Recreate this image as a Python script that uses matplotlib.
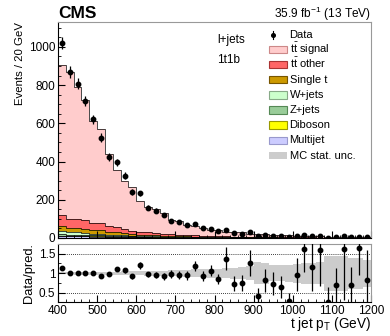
import numpy as np
import matplotlib
matplotlib.use("Agg")
from matplotlib import pyplot as plt
from matplotlib.patches import Rectangle
from matplotlib.lines import Line2D

plt.rcParams['font.family'] = ['Liberation Sans', 'DejaVu Sans']
plt.rcParams['mathtext.fontset'] = 'custom'
plt.rcParams['mathtext.rm'] = 'Liberation Sans'
plt.rcParams['mathtext.it'] = 'Liberation Sans:italic'

# binning: 400-1200 GeV, 20 GeV bins
edges = np.arange(400, 1201, 20)
centers = edges[:-1] + 10

data = [1020, 868, 807, 717, 621, 524, 423, 395, 325, 240,
        233, 158, 143, 120, 90, 85, 66, 72, 51, 47,
        36, 42, 24, 23, 29, 9, 16, 13, 10, 4,
        11, 16, 10, 13, 2, 4, 9, 4, 7, 3]

tt_signal = [782, 768, 693, 625, 532, 491, 378, 303, 254, 227,
             162, 133, 124, 108, 72, 70, 53, 48, 43, 34,
             32, 23, 26, 23.5, 17, 16.5, 14, 12.5, 11, 9.5,
             8, 7.2, 6.4, 5.6, 4.8, 4, 3.6, 3.2, 2.8, 2.4]
tt_other = [60, 48, 47, 47, 39, 38, 29, 26, 21, 17,
            15, 14, 11.5, 10, 9, 8, 6.8, 5.5, 5, 4,
            3.6, 3.3, 2.8, 2.6, 2.4, 2.2, 2, 1.8, 1.6, 1.5,
            1.3, 1.2, 1.1, 1, 0.9, 0.8, 0.8, 0.7, 0.7, 0.6]
single_t = [26, 22, 21, 20, 17, 16, 13, 12, 10, 8,
            7, 6, 5, 4.5, 4, 3.5, 3, 2.7, 2.4, 2.1,
            1.9, 1.7, 1.5, 1.4, 1.2, 1.1, 1, 0.9, 0.8, 0.7,
            0.7, 0.6, 0.6, 0.5, 0.5, 0.4, 0.4, 0.4, 0.3, 0.3]
wjets = [16, 13, 12, 12, 10, 10, 8, 7, 6, 5,
         4.5, 4, 3.5, 3, 2.8, 2.5, 2.2, 2, 1.8, 1.6,
         1.4, 1.3, 1.2, 1.1, 1, 0.9, 0.8, 0.8, 0.7, 0.6,
         0.6, 0.5, 0.5, 0.5, 0.4, 0.4, 0.4, 0.3, 0.3, 0.3]
zjets = [7, 6, 6, 6, 5, 5, 4, 4, 3, 3,
         2.5, 2.5, 2, 2, 1.5, 1.5, 1.2, 1.2, 1, 1,
         0.8, 0.8, 0.7, 0.6, 0.6, 0.5, 0.5, 0.4, 0.4, 0.3,
         0.3, 0.3, 0.3, 0.2, 0.2, 0.2, 0.2, 0.2, 0.1, 0.1]
diboson = [2, 2, 2, 2, 1.5, 1.5, 1.2, 1.2, 1, 1,
           0.8, 0.8, 0.6, 0.6, 0.5, 0.5, 0.4, 0.4, 0.3, 0.3,
           0.3, 0.2, 0.2, 0.2, 0.2, 0.2, 0.1, 0.1, 0.1, 0.1,
           0.1, 0.1, 0.1, 0.1, 0.1, 0.1, 0.1, 0.1, 0.1, 0.1]
multijet = [10, 9, 9, 8, 7, 7, 5, 5, 4, 4,
            3, 3, 2.5, 2, 2, 2, 1.5, 1.5, 1.2, 1,
            1, 0.9, 0.8, 0.8, 0.7, 0.6, 0.6, 0.5, 0.5, 0.4,
            0.4, 0.4, 0.3, 0.3, 0.3, 0.3, 0.2, 0.2, 0.2, 0.2]

ratio = [1.13, 1.01, 1.02, 1.00, 1.02, 0.92, 0.97, 1.11, 1.08, 0.92,
         1.20, 0.97, 0.96, 0.92, 0.98, 0.95, 0.95, 1.18, 0.93, 1.07,
         0.86, 1.37, 0.74, 0.76, 1.26, 0.42, 0.82, 0.74, 0.64, 0.29,
         0.96, 1.61, 1.16, 1.58, 0.27, 0.69, 1.61, 0.71, 1.65, 0.84]
ratio_err = [0.035, 0.035, 0.035, 0.04, 0.04, 0.045, 0.045, 0.055, 0.06, 0.065,
             0.08, 0.07, 0.07, 0.08, 0.1, 0.1, 0.12, 0.13, 0.13, 0.15,
             0.12, 0.29, 0.2, 0.2, 0.34, 0.2, 0.3, 0.3, 0.28, 0.2,
             0.42, 0.57, 0.6, 0.9, 0.38, 0.45, 1.3, 0.45, 0.7, 0.75]
mc_unc = [0.03, 0.03, 0.035, 0.035, 0.04, 0.04, 0.045, 0.045, 0.05, 0.05,
          0.055, 0.06, 0.06, 0.07, 0.08, 0.08, 0.09, 0.1, 0.1, 0.11,
          0.12, 0.13, 0.14, 0.15, 0.18, 0.28, 0.26, 0.2, 0.2, 0.22,
          0.24, 0.26, 0.26, 0.28, 0.45, 0.45, 0.45, 0.4, 0.4, 0.35]

# stack from bottom to top
stack = [
    (multijet, '#ccccff', '#9999cc', 'Multijet'),
    (diboson, '#ffff00', '#999900', 'Diboson'),
    (zjets, '#99cc99', '#558855', 'Z+jets'),
    (wjets, '#ccffcc', '#88aa88', 'W+jets'),
    (single_t, '#cc9900', '#775500', 'Single t'),
    (tt_other, '#ff6666', '#aa3333', r'$\mathrm{t\bar{t}}$ other'),
    (tt_signal, '#ffcccc', '#cc8888', r'$\mathrm{t\bar{t}}$ signal'),
]

W, H = 390, 336
fig = plt.figure(figsize=(W / 100, H / 100), dpi=100)
ax = fig.add_axes([58 / W, 1 - 238 / H, 313 / W, 216 / H])
rax = fig.add_axes([58 / W, 1 - 302 / H, 313 / W, 58 / H])

unc = np.array(mc_unc)

bottom = np.zeros(len(centers))
for vals, col, ecol, lab in stack:
    vals = np.array(vals, dtype=float)
    ax.stairs(bottom + vals, edges, baseline=bottom, fill=True, color=col,
              lw=0, zorder=1)
    ax.stairs(bottom + vals, edges, baseline=None, color='black', lw=0.5, zorder=1.5)
    bottom = bottom + vals

data = np.array(data, dtype=float)
ax.errorbar(centers, data, yerr=np.sqrt(data), fmt='o', color='black', ms=3.2,
            elinewidth=0.9, capsize=0, zorder=3)

ax.set_xlim(400, 1200)
ax.set_ylim(0, 1130)
ax.set_xticks(np.arange(400, 1201, 100))
ax.set_xticks(np.arange(400, 1201, 20), minor=True)
ax.set_yticks(np.arange(0, 1001, 200))
ax.set_yticks(np.arange(0, 1101, 50), minor=True)
ax.tick_params(axis='both', which='both', direction='in', labelsize=8.5, pad=2)
ax.tick_params(which='major', length=5)
ax.tick_params(which='minor', length=2.5)
ax.tick_params(axis='x', labelbottom=False)
ax.set_ylabel('Events / 20 GeV', fontsize=8.2, loc='top', labelpad=3)
for s in ['top', 'right']:
    ax.spines[s].set_color('#999999')
for s in ax.spines.values():
    s.set_linewidth(0.8)

px = lambda x, y: (x / W, 1 - y / H)

fig.text(*px(58, 18.5), 'CMS', fontsize=12.5, fontweight='bold',
         ha='left', va='baseline')
fig.text(*px(371, 18), r'35.9 fb$^{-1}$ (13 TeV)', fontsize=8.6,
         ha='right', va='baseline')
fig.text(*px(217, 40), 'l+jets', fontsize=8.5, ha='left', va='center')
fig.text(*px(217, 60), '1t1b', fontsize=8.5, ha='left', va='center')

# legend drawn by hand, rows every ~15 px
labels = ['Data'] + [s[3] for s in stack[::-1]] + ['MC stat. unc.']
for i, lab in enumerate(labels):
    yc = 34.5 + i * 15.1
    if i == 0:
        fig.add_artist(Line2D([273 / W] * 2, [1 - (yc - 4) / H, 1 - (yc + 4) / H],
                              color='black', lw=0.8, transform=fig.transFigure))
        fig.add_artist(Line2D([273 / W], [1 - yc / H], marker='o', ms=2.6,
                              color='black', transform=fig.transFigure))
    elif i <= len(stack):
        _, col, ecol, _ = stack[::-1][i - 1]
        fig.add_artist(Rectangle(px(268.5, yc + 3.6), 18.5 / W, 7.2 / H,
                                 facecolor=col, edgecolor=ecol, lw=0.8,
                                 transform=fig.transFigure))
    else:
        fig.add_artist(Rectangle(px(268.5, yc + 3.6), 18.5 / W, 7.2 / H,
                                 facecolor='#cccccc', edgecolor='none',
                                 transform=fig.transFigure))
    fig.text(*px(289.5, yc + 3.3), lab, fontsize=8.0, ha='left', va='baseline')

# ratio panel
rax.stairs(1 + unc, edges, baseline=1 - unc, fill=True, color='#cccccc', zorder=1)
for yv in [0.5, 1.0, 1.5]:
    rax.axhline(yv, color='black', lw=0.6, ls=(0, (1, 1.5)), zorder=0.5)
rax.errorbar(centers, ratio, yerr=ratio_err, fmt='o', color='black', ms=3.2,
             elinewidth=0.9, capsize=0, zorder=3)
rax.set_xlim(400, 1200)
rax.set_ylim(0.27, 1.745)
rax.set_xticks(np.arange(400, 1201, 100))
rax.set_xticks(np.arange(400, 1201, 20), minor=True)
rax.set_yticks([0.5, 1.0, 1.5])
rax.set_yticklabels(['0.5', '1', '1.5'])
rax.set_yticks(np.arange(0.5, 1.75, 0.25), minor=True)
rax.tick_params(axis='both', which='both', direction='in', labelsize=8.5, pad=2)
rax.tick_params(which='major', length=5)
rax.tick_params(which='minor', length=2.5)
rax.set_ylabel('Data/pred.', fontsize=9.3, labelpad=3)
rax.set_xlabel(r't jet p$_\mathrm{T}$ (GeV)', fontsize=9.8, loc='right', labelpad=-1)
for s in ['top', 'right']:
    rax.spines[s].set_color('#999999')
for s in rax.spines.values():
    s.set_linewidth(0.8)

plt.savefig('out.png', dpi=100)
